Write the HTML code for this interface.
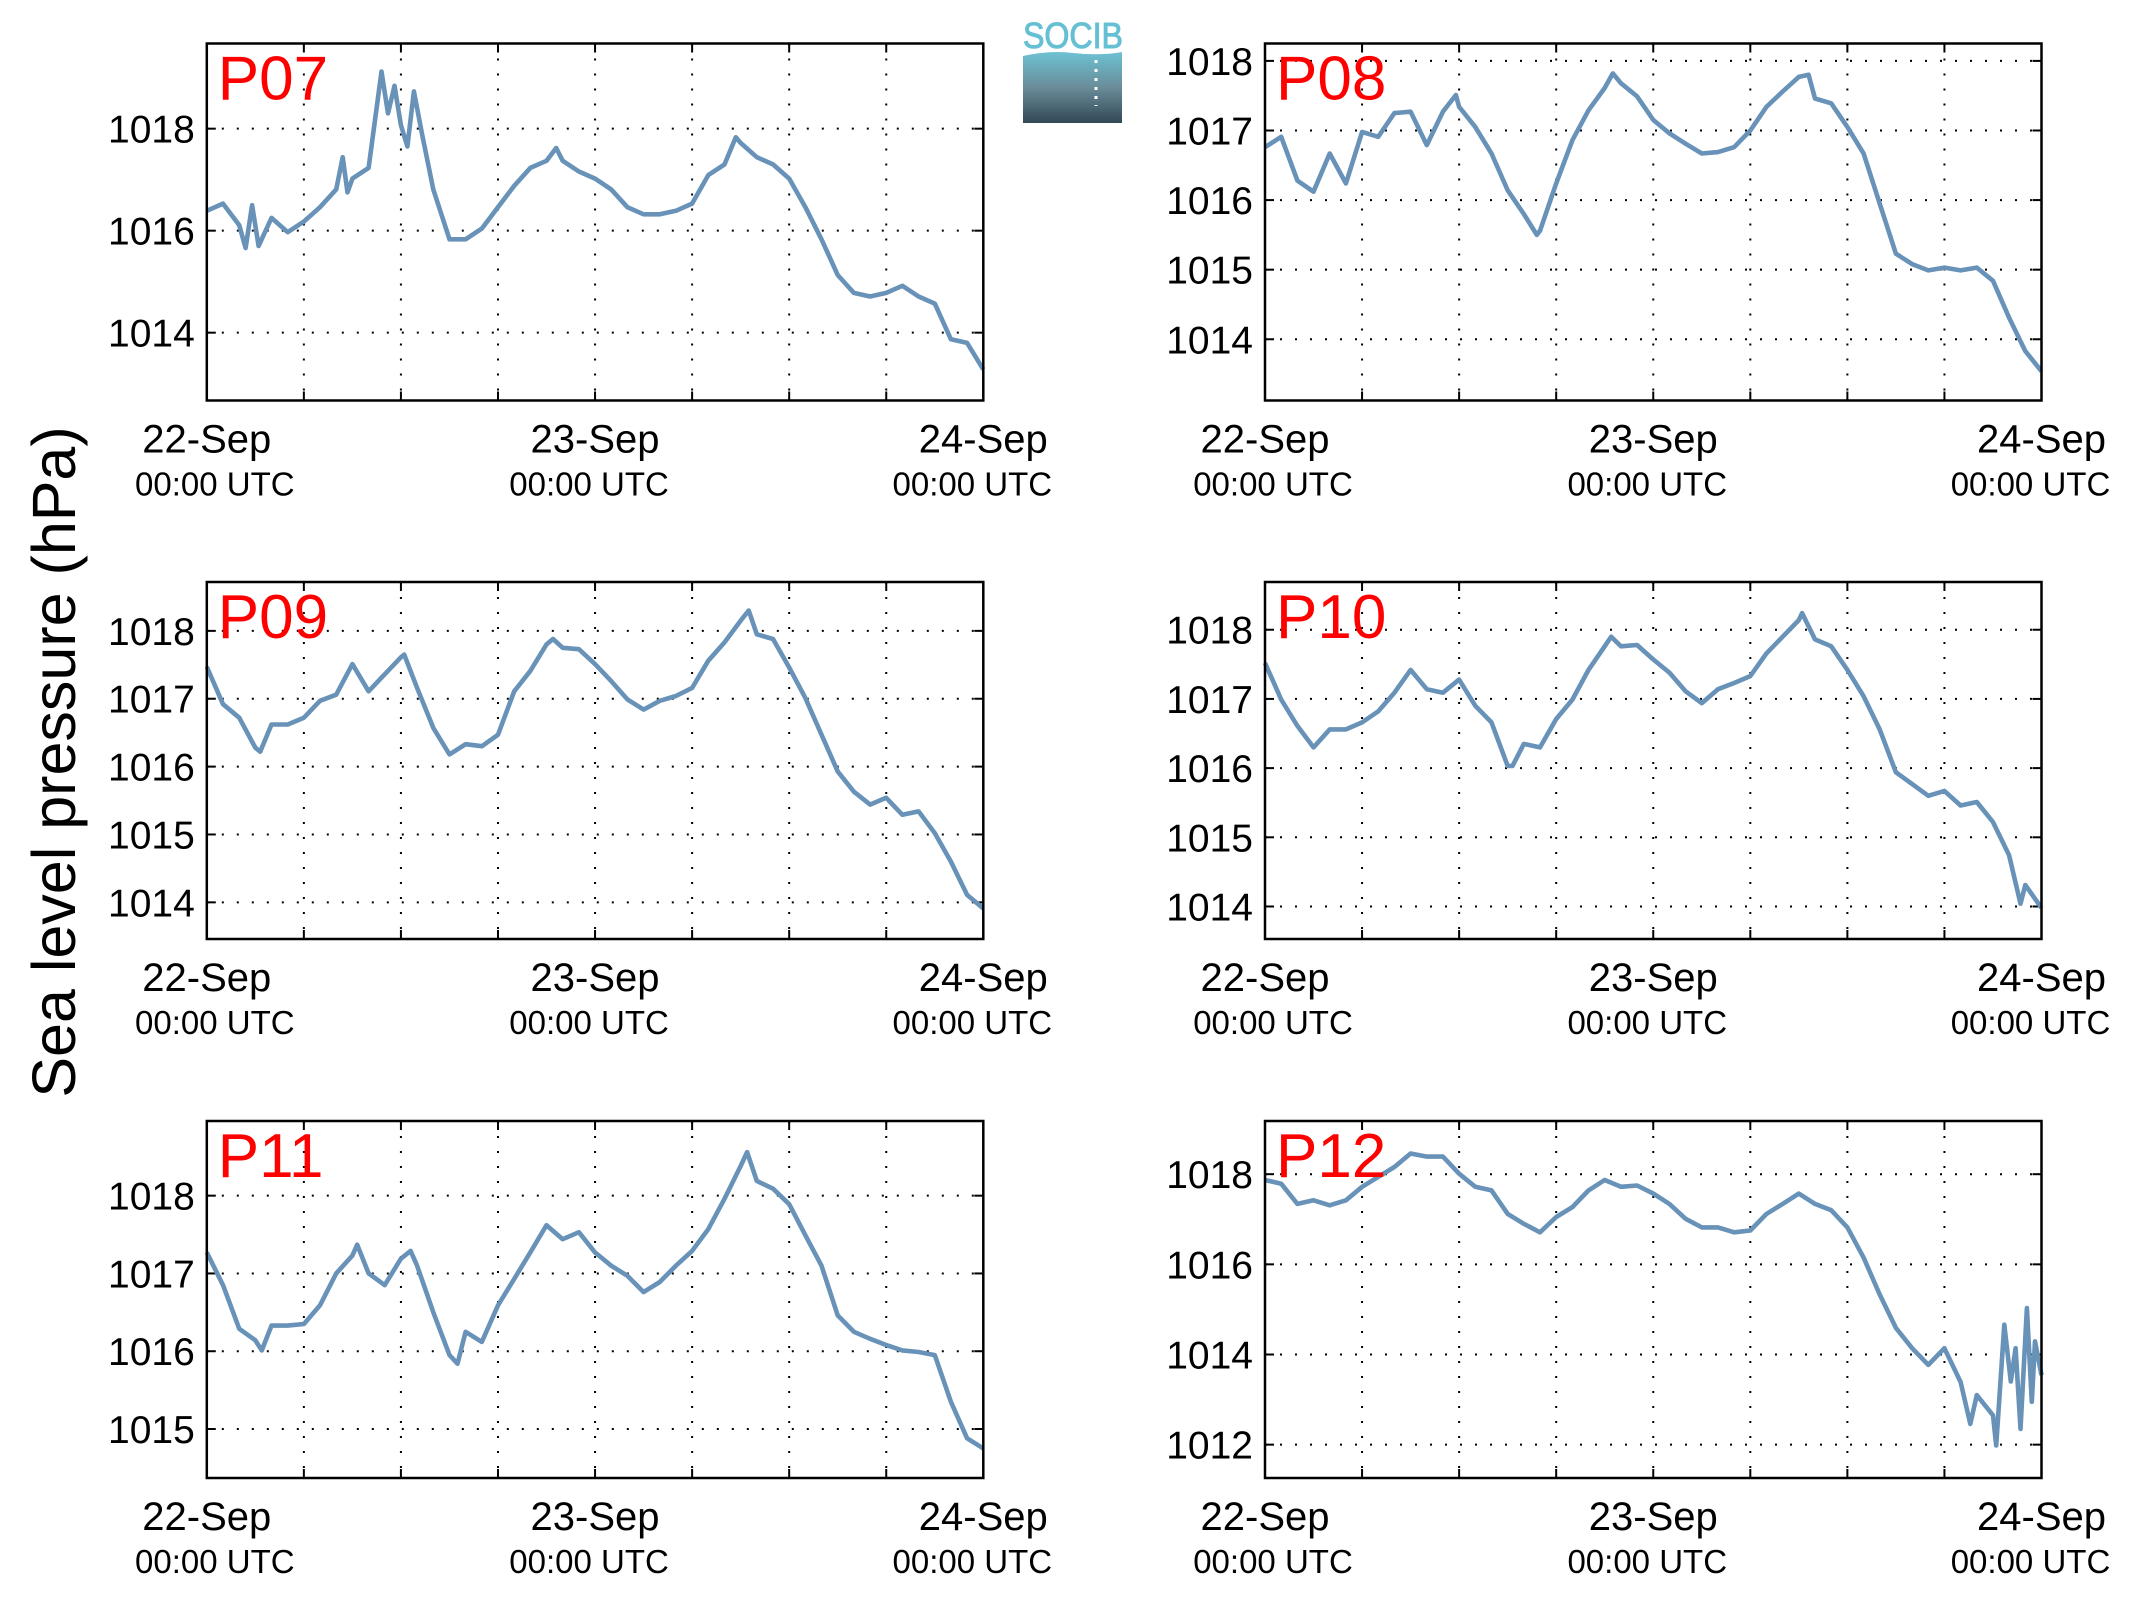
<!DOCTYPE html>
<html><head><meta charset="utf-8"><style>
html,body{margin:0;padding:0;background:#fff;}
svg{display:block;font-family:"Liberation Sans",Arial,sans-serif;}
</style></head><body>
<svg id="chart" width="2133" height="1608" viewBox="0 0 2133 1608">
<defs><linearGradient id="lg" x1="0" y1="0" x2="0" y2="1"><stop offset="0" stop-color="#6cc2d3"/><stop offset="0.5" stop-color="#6a8c99"/><stop offset="1" stop-color="#324855"/></linearGradient></defs>
<g>
<text x="1073" y="48" text-anchor="middle" font-size="36" fill="#66c0d3" stroke="#66c0d3" stroke-width="1" textLength="100" lengthAdjust="spacingAndGlyphs">SOCIB</text>
<path d="M1023 56 Q1050 50 1073 53 Q1100 56 1122 52 L1122 123 L1023 123 Z" fill="url(#lg)"/>
<line x1="1096" y1="60" x2="1096" y2="106" stroke="#fff" stroke-width="3" stroke-dasharray="3 6"/>
</g>
<text transform="translate(75,762) rotate(-90)" text-anchor="middle" font-size="61">Sea level pressure (hPa)</text>
</svg>
<script>
// ---- data (time in hours since 22-Sep 00:00 UTC, pressure in hPa) ----
const dateLabels = ["22-Sep","23-Sep","24-Sep"];
const timeLabel = "00:00 UTC";
const panelNames = ["P07","P08","P09","P10","P11","P12"];

const t07 = [0,1,2,2.4,2.8,3.2,4,5,6,7,8,8.4,8.7,9,10,10.8,11.2,11.6,12,12.4,12.8,13.3,14,15,16,17,18,19,20,21,21.6,22,23,24,25,26,27,28,29,30,31,32,32.7,33,34,35,36,37,38,39,40,41,42,43,44,45,46,47,48];
const v07 = [1016.39,1016.53,1016.11,1015.66,1016.5,1015.7,1016.25,1015.97,1016.18,1016.46,1016.81,1017.44,1016.75,1017.02,1017.23,1019.12,1018.3,1018.84,1018.07,1017.65,1018.73,1017.9,1016.81,1015.83,1015.83,1016.04,1016.46,1016.88,1017.23,1017.37,1017.62,1017.37,1017.16,1017.02,1016.81,1016.46,1016.32,1016.32,1016.39,1016.53,1017.09,1017.3,1017.83,1017.72,1017.44,1017.3,1017.02,1016.46,1015.83,1015.13,1014.78,1014.71,1014.78,1014.92,1014.71,1014.57,1013.87,1013.8,1013.28];

const t08 = [0,1,2,3,4,5,6,7,8,9,10,11,11.8,12,13,14,15,16,16.8,17,18,19,20,21,21.5,22,23,24,25,26,27,28,29,30,31,32,33,33.6,34,35,36,37,38,39,40,41,42,43,44,45,46,47,48];
const v08 = [1016.76,1016.91,1016.28,1016.12,1016.67,1016.24,1016.98,1016.91,1017.25,1017.27,1016.79,1017.27,1017.51,1017.34,1017.05,1016.67,1016.14,1015.8,1015.5,1015.56,1016.24,1016.86,1017.29,1017.61,1017.82,1017.68,1017.49,1017.15,1016.96,1016.81,1016.67,1016.69,1016.76,1017.0,1017.34,1017.56,1017.77,1017.8,1017.46,1017.39,1017.05,1016.67,1015.95,1015.23,1015.08,1014.99,1015.03,1014.99,1015.03,1014.84,1014.31,1013.83,1013.54];

const t09 = [0,1,2,3,3.3,4,5,6,7,8,9,10,11,12,12.2,13,14,15,16,17,18,19,20,21,21.4,22,23,24,25,26,27,28,29,30,31,32,33,33.5,34,35,36,37,38,39,40,41,42,43,44,45,46,47,48];
const v09 = [1017.47,1016.92,1016.72,1016.28,1016.22,1016.62,1016.62,1016.72,1016.97,1017.06,1017.51,1017.11,1017.36,1017.61,1017.65,1017.16,1016.57,1016.18,1016.33,1016.3,1016.47,1017.11,1017.41,1017.8,1017.88,1017.75,1017.73,1017.51,1017.26,1016.99,1016.84,1016.97,1017.04,1017.16,1017.56,1017.83,1018.15,1018.3,1017.95,1017.88,1017.46,1017.01,1016.47,1015.93,1015.63,1015.44,1015.54,1015.29,1015.34,1015.02,1014.6,1014.11,1013.91];

const t10 = [0,1,2,3,4,5,6,7,8,9,10,11,12,13,14,15,15.3,16,17,18,19,20,21,21.4,22,23,24,25,26,27,28,29,30,31,32,33,33.2,34,35,36,37,38,39,40,41,42,43,44,45,46,46.7,47,48];
const v10 = [1017.52,1016.99,1016.61,1016.3,1016.56,1016.56,1016.66,1016.82,1017.09,1017.42,1017.14,1017.09,1017.28,1016.9,1016.66,1016.03,1016.03,1016.35,1016.3,1016.71,1016.99,1017.42,1017.76,1017.9,1017.76,1017.78,1017.57,1017.38,1017.11,1016.94,1017.14,1017.23,1017.33,1017.66,1017.9,1018.14,1018.24,1017.86,1017.76,1017.42,1017.04,1016.56,1015.94,1015.77,1015.6,1015.67,1015.46,1015.51,1015.22,1014.74,1014.04,1014.31,1013.98];

const t11 = [0,1,2,3,3.4,4,5,6,7,8,9,9.3,10,11,12,12.6,13,14,15,15.5,16,17,18,19,20,21,22,23,24,25,26,27,28,29,30,31,32,33,33.4,34,35,36,37,38,39,40,41,42,43,44,45,46,47,48];
const v11 = [1017.27,1016.85,1016.29,1016.14,1016.01,1016.33,1016.33,1016.35,1016.59,1017.0,1017.23,1017.37,1017.0,1016.85,1017.19,1017.29,1017.1,1016.5,1015.95,1015.84,1016.25,1016.12,1016.59,1016.93,1017.27,1017.62,1017.44,1017.53,1017.27,1017.1,1016.97,1016.76,1016.89,1017.1,1017.29,1017.57,1017.96,1018.38,1018.56,1018.19,1018.09,1017.89,1017.49,1017.1,1016.46,1016.25,1016.16,1016.08,1016.01,1015.99,1015.95,1015.35,1014.88,1014.75];

const t12 = [0,1,2,3,4,5,6,7,8,9,10,11,12,13,14,15,16,17,18,19,20,21,22,23,24,25,26,27,28,29,30,31,32,33,34,35,36,37,38,39,40,41,42,43,43.6,44,45,45.2,45.7,46.1,46.4,46.7,47.1,47.4,47.6,48];
const v12 = [1017.87,1017.79,1017.34,1017.42,1017.31,1017.42,1017.72,1017.94,1018.16,1018.46,1018.39,1018.39,1018.01,1017.72,1017.64,1017.12,1016.9,1016.71,1017.05,1017.27,1017.64,1017.87,1017.72,1017.75,1017.57,1017.34,1017.01,1016.82,1016.82,1016.71,1016.75,1017.12,1017.34,1017.57,1017.34,1017.2,1016.82,1016.15,1015.33,1014.59,1014.14,1013.77,1014.14,1013.39,1012.46,1013.1,1012.65,1011.98,1014.66,1013.4,1014.14,1012.35,1015.03,1012.95,1014.29,1013.54];

const yTicks07 = [1014,1016,1018];
const yTicks08 = [1014,1015,1016,1017,1018];
const yTicks09 = [1014,1015,1016,1017,1018];
const yTicks10 = [1014,1015,1016,1017,1018];
const yTicks11 = [1015,1016,1017,1018];
const yTicks12 = [1012,1014,1016,1018];

const yRanges = [[1012.67,1019.67],[1013.12,1018.25],[1013.46,1018.72],[1013.53,1018.69],[1014.37,1018.96],[1011.26,1019.18]];

const series = [[t07,v07],[t08,v08],[t09,v09],[t10,v10],[t11,v11],[t12,v12]];
const yTicksAll = [yTicks07,yTicks08,yTicks09,yTicks10,yTicks11,yTicks12];

// ---- drawing ----
const NS = "http://www.w3.org/2000/svg";
const svg = document.getElementById('chart');
function mk(tag, attrs, parent){
  const e = document.createElementNS(NS, tag);
  for (const k in attrs) e.setAttribute(k, attrs[k]);
  (parent||svg).appendChild(e);
  return e;
}
const colX = [206.8, 1265];
const W = 776.5;
const rowY = [43.5, 582, 1121];
const H = 357;
const utcShift = [8, -6, -11];

for (let p = 0; p < 6; p++) {
  const L = colX[p % 2], T = rowY[Math.floor(p / 2)], R = L + W, B = T + H;
  const [y0, y1] = yRanges[p];
  const xs = h => L + (h / 48) * W;
  const ys = v => B - (v - y0) / (y1 - y0) * H;
  const g = mk('g', {});
  
  
  for (let k = 1; k < 8; k++) {
    const x = xs(k * 6);
    const gl = mk('line', {x1:x, y1:T, x2:x, y2:B, stroke:'#000', 'stroke-width':2, 'stroke-dasharray':'2 13'}, g);
    
    
    mk('line', {x1:x, y1:B, x2:x, y2:B-9, stroke:'#000', 'stroke-width':2}, g);
    mk('line', {x1:x, y1:T, x2:x, y2:T+9, stroke:'#000', 'stroke-width':2}, g);
  }
  yTicksAll[p].forEach(v => {
    const y = ys(v);
    const gl = mk('line', {x1:L, y1:y, x2:R, y2:y, stroke:'#000', 'stroke-width':2, 'stroke-dasharray':'2 13'}, g);
    
    
    mk('line', {x1:L, y1:y, x2:L+9, y2:y, stroke:'#000', 'stroke-width':2}, g);
    mk('line', {x1:R, y1:y, x2:R-9, y2:y, stroke:'#000', 'stroke-width':2}, g);
    const tl = mk('text', {x:L-12, y:y+14, 'text-anchor':'end', 'font-size':39}, g);
    tl.textContent = v;
    
    
  });
  dateLabels.forEach((d, i) => {
    const x = xs(i * 24);
    const a = mk('text', {x:x, y:B+52, 'text-anchor':'middle', 'font-size':40}, g);
    a.textContent = d;
    
    
    const b = mk('text', {x:x+utcShift[i], y:B+95, 'text-anchor':'middle', 'font-size':33}, g);
    b.textContent = timeLabel;
    
    
  });
  const [ts, vs] = series[p];
  let d = '';
  ts.forEach((h, i) => { d += (i ? 'L' : 'M') + xs(h).toFixed(1) + ' ' + ys(vs[i]).toFixed(1); });
  const path = mk('path', {d:d, fill:'none', stroke:'#6892b8', 'stroke-width':4.6, 'stroke-linejoin':'round'}, g);
  
  
  const fr = mk('rect', {x:L, y:T, width:W, height:H, fill:'none', stroke:'#000', 'stroke-width':2.5}, g);
  
  
  const tt = mk('text', {x:L+11, y:T+56, 'font-size':62, fill:'#ff0000'}, g);
  tt.textContent = panelNames[p];
  
  
}
</script>
</body></html>
